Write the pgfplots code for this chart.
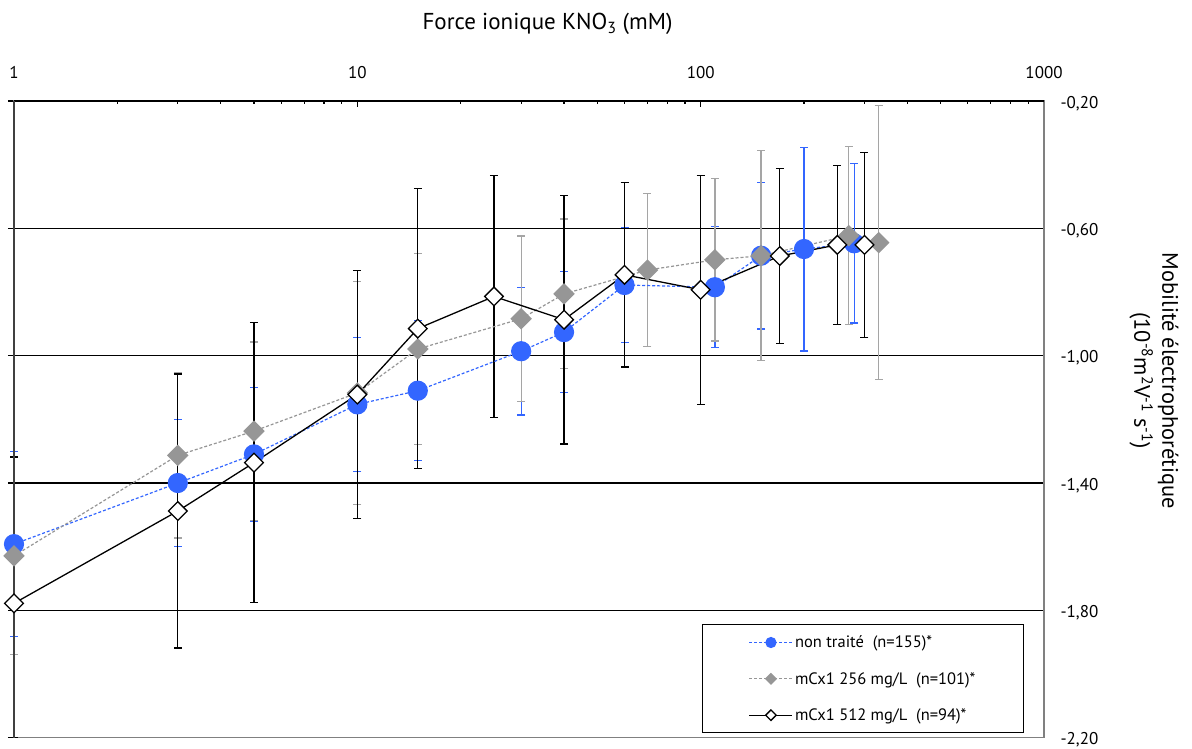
\documentclass[border=0pt]{standalone}
\usepackage{pgfplots}
\pgfplotsset{compat=1.18}
\usepackage{pgfplotstable}
\usepackage{fontspec}
\setmainfont{PT Sans}
\definecolor{cblue}{RGB}{51,102,255}
\definecolor{cgray}{RGB}{150,150,150}
\definecolor{cgraybar}{RGB}{165,165,165}
\definecolor{cborder}{RGB}{128,128,128}

\pgfplotsset{
  legcirc/.style={legend image code/.code={\draw[mark repeat=2, mark phase=2, ##1, mark size=5pt] plot coordinates {(0pt,0pt) (21.5pt,0pt) (43pt,0pt)};}},
  legdiam/.style={legend image code/.code={\draw[mark repeat=2, mark phase=2, ##1, mark size=3.7pt] plot coordinates {(0pt,0pt) (21.5pt,0pt) (43pt,0pt)};}},
}

\pgfplotstableread{
x y e
1 -1.592 0.29
3 -1.400 0.20
5 -1.310 0.21
10 -1.153 0.21
15 -1.110 0.22
30 -0.986 0.20
40 -0.926 0.19
60 -0.778 0.18
110 -0.785 0.19
150 -0.686 0.23
200 -0.665 0.32
280 -0.647 0.25
}\tblue

\pgfplotstableread{
x y e
1 -1.629 0.31
3 -1.313 0.26
5 -1.237 0.28
10 -1.117 0.35
15 -0.979 0.30
30 -0.884 0.26
40 -0.806 0.235
70 -0.731 0.24
110 -0.699 0.255
150 -0.686 0.33
270 -0.623 0.28
330 -0.645 0.43
}\tgray

\pgfplotstableread{
x y ep em
1 -1.778 0.46 0.422
3 -1.488 0.43 0.43
5 -1.336 0.44 0.44
10 -1.122 0.39 0.39
15 -0.915 0.44 0.44
25 -0.814 0.38 0.38
40 -0.887 0.39 0.39
60 -0.746 0.29 0.29
100 -0.793 0.36 0.36
170 -0.687 0.275 0.275
250 -0.652 0.25 0.25
300 -0.652 0.29 0.29
}\tblack

\begin{document}
\begin{tikzpicture}
\path[use as bounding box] (-14pt,-11.3pt) rectangle (1178pt,737.7pt);
\begin{axis}[
  scale only axis, width=1030pt, height=636.7pt,
  xmode=log, xmin=1, xmax=1000, ymin=-2.2, ymax=-0.2,
  xtick={1,10,100,1000}, xticklabels={1,10,100,1000},
  minor xtick={},
  ytick={-2.2,-1.8,-1.4,-1,-0.6,-0.2},
  yticklabels={{-2,20},{-1,80},{-1,40},{-1,00},{-0,60},{-0,20}},
  xtick pos=upper, xticklabel pos=upper,
  ytick pos=lower, yticklabel pos=upper,
  tick align=inside, major tick length=6pt,
  tick style={black, line width=1.2pt},
  y tick style={xshift=-6pt},
  ymajorgrids, major grid style={black, line width=1.1pt},
  axis line style={draw=cborder, line width=1.3pt},
  tick label style={font=\fontsize{17}{20}\selectfont},
  xticklabel style={anchor=base, yshift=22pt},
  yticklabel style={anchor=west, xshift=13pt, yshift=-2.5pt},
  clip=false,
  legend style={at={(rel axis cs:0.9806,0.0069)}, anchor=south east, draw=black, line width=1pt, fill=white,
    font=\fontsize{16.5}{19}\selectfont, inner xsep=46pt, inner ysep=9pt, row sep=19pt},
  legend cell align=left,
]
% error bars first
\addplot[forget plot, draw=none, mark=none,
  error bars/.cd, y dir=both, y explicit,
  error bar style={draw=cblue, line width=1.3pt, solid},
  error mark options={rotate=90, draw=cblue, line width=1.3pt, mark size=4pt}]
  table[x=x, y=y, y error=e] {\tblue};
\addplot[forget plot, draw=none, mark=none,
  error bars/.cd, y dir=both, y explicit,
  error bar style={draw=cgraybar, line width=1.3pt, solid},
  error mark options={rotate=90, draw=cgraybar, line width=1.3pt, mark size=4pt}]
  table[x=x, y=y, y error=e] {\tgray};
\addplot[forget plot, draw=none, mark=none,
  error bars/.cd, y dir=both, y explicit,
  error bar style={draw=black, line width=1.3pt, solid},
  error mark options={rotate=90, draw=black, line width=1.3pt, mark size=4pt}]
  table[x=x, y=y, y error plus=ep, y error minus=em] {\tblack};

\addplot[cblue, line width=1.2pt, dash pattern=on 3pt off 2pt,
  mark=*, mark size=9.5pt, mark options={solid, fill=cblue, draw=cblue}, legcirc]
  table[x=x, y=y] {\tblue};
\addlegendentry{non traité\ \ (n=155)*}
\addplot[cgray, line width=1.2pt, dash pattern=on 3pt off 2pt,
  mark=square*, mark size=7pt, mark options={solid, rotate=45, fill=cgray, draw=cgray}, legdiam]
  table[x=x, y=y] {\tgray};
\addlegendentry{mCx1 256 mg/L\ \ (n=101)*}
\addplot[black, line width=1.3pt, solid,
  mark=square*, mark size=6.6pt, mark options={solid, rotate=45, fill=white, draw=black, line width=1.3pt}, legdiam]
  table[x=x, y=y] {\tblack};
\addlegendentry{mCx1 512 mg/L\ \ (n=94)*}

\draw[black, line width=1.6pt] (rel axis cs:0,1) -- (rel axis cs:1,1);
\draw[black!75, line width=1.6pt] (rel axis cs:0,0) -- (rel axis cs:0,1);
\end{axis}
\node[anchor=base, font=\fontsize{23}{27}\selectfont] at (533.5pt,707.7pt) {Force ionique KNO\textsubscript{3} (mM)};
\node[rotate=-90, align=center, font=\fontsize{22.4}{28}\selectfont] at (1140pt,357pt)
  {Mobilité électrophorétique\\(10\textsuperscript{-8}m\textsuperscript{2}V\textsuperscript{-1} s\textsuperscript{-1})};
\end{tikzpicture}
\end{document}
